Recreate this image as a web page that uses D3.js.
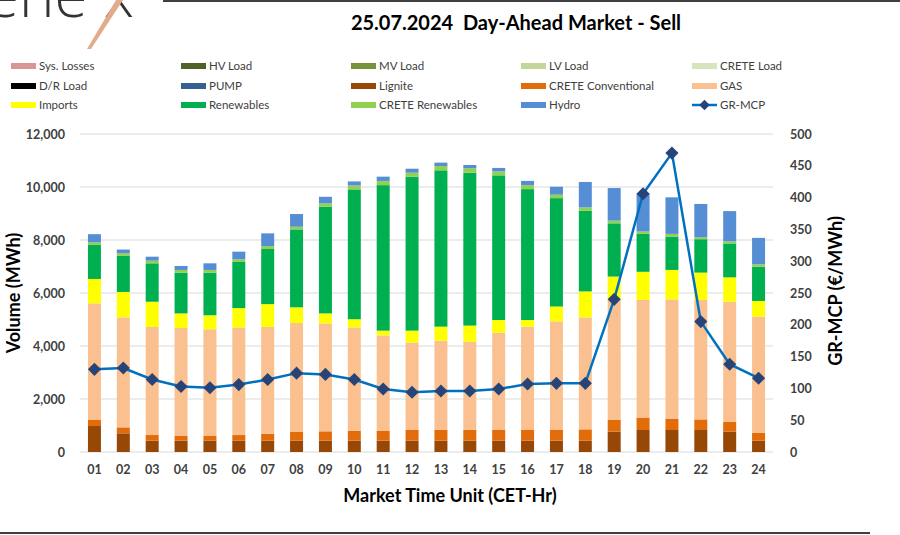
<!DOCTYPE html>
<html><head><meta charset="utf-8">
<script src="https://cdn.jsdelivr.net/npm/d3@7"></script>
<style>
body{margin:0;background:#fff;}
svg{display:block;font-family:Lato,"Open Sans",sans-serif;}
</style></head>
<body><svg id="c" width="900" height="535"></svg>
<script>
const hours = ["01","02","03","04","05","06","07","08","09","10","11","12","13","14","15","16","17","18","19","20","21","22","23","24"];
const lignite = [980,705,430,430,430,430,430,430,430,430,430,430,430,430,430,430,430,430,770,830,830,830,770,430];
const creteConventional = [230,225,210,190,190,210,260,325,350,375,375,400,410,410,400,400,400,425,440,470,430,400,375,300];
const gas = [4400,4150,4080,4060,4010,4060,4030,4115,4070,3895,3595,3300,3360,3320,3670,3900,4100,4225,4530,4440,4500,4510,4525,4380];
const imports = [920,960,950,550,530,730,860,590,380,310,180,450,530,610,480,250,560,980,880,1060,1110,1030,920,590];
const renewables = [1280,1360,1450,1540,1610,1740,2080,2940,4030,4900,5490,5810,5900,5770,5460,4940,4090,3050,2010,1430,1260,1260,1280,1290];
const creteRenewables = [100,100,100,100,100,100,110,100,120,150,160,150,160,170,150,150,130,120,100,90,100,70,80,90];
const hydro = [310,140,150,150,250,290,480,480,250,150,160,150,130,120,130,160,300,960,1230,1430,1380,1260,1140,1000];
const grMcp = [130,132,114,103,101,106,114,124,122,114,99,94,96,96,99,107,108,108,240,406,470,205,138,116];
const leftTicks = [0,2000,4000,6000,8000,10000,12000];
const rightTicks = [0,50,100,150,200,250,300,350,400,450,500];

const legendItems = [
  ["Sys. Losses","#DA9694","bar"],["HV Load","#4F6228","bar"],["MV Load","#77933C","bar"],["LV Load","#C4D79B","bar"],["CRETE Load","#D8E4BC","bar"],
  ["D/R Load","#000000","bar"],["PUMP","#366092","bar"],["Lignite","#974706","bar"],["CRETE Conventional","#E26B0A","bar"],["GAS","#FAC090","bar"],
  ["Imports","#FFFF00","bar"],["Renewables","#00B050","bar"],["CRETE Renewables","#92D050","bar"],["Hydro","#558ED5","bar"],["GR-MCP","#0070C0","line"]
];
const stackSeries = [
  {name:"Lignite",values:lignite,color:"#974706"},
  {name:"CRETE Conventional",values:creteConventional,color:"#E26B0A"},
  {name:"GAS",values:gas,color:"#FAC090"},
  {name:"Imports",values:imports,color:"#FFFF00"},
  {name:"Renewables",values:renewables,color:"#00B050"},
  {name:"CRETE Renewables",values:creteRenewables,color:"#92D050"},
  {name:"Hydro",values:hydro,color:"#558ED5"}
];

const svg = d3.select("#c");
const L=80,R=773,T=134,B=452;
const x = d3.scaleBand().domain(hours).range([L,R]).paddingInner(0.55).paddingOuter(0.275);
const y = d3.scaleLinear().domain([0,12000]).range([B,T]);
const y2 = d3.scaleLinear().domain([0,500]).range([B,T]);

// frame lines
svg.append("line").attr("x1",163).attr("x2",900).attr("y1",1).attr("y2",1).attr("stroke","#000").attr("stroke-width",1.5);
svg.append("line").attr("x1",0).attr("x2",870).attr("y1",533).attr("y2",533).attr("stroke","#000").attr("stroke-width",1.5);

// logo (cut off at the top edge, as in the reference)
svg.append("text").attr("x",-14).attr("y",17).attr("font-family","'Open Sans',sans-serif").attr("font-weight",300)
  .attr("font-size",60).attr("fill","#333").text("ene");
svg.append("text").attr("x",104).attr("y",17).attr("font-family","'Open Sans',sans-serif").attr("font-weight",300)
  .attr("font-size",60).attr("fill","#333").text("x");
svg.append("path").attr("d","M116,0 L123,0 L91,49 L87,49 Z").attr("fill","#E2AC8C");

// title
svg.append("text").attr("x",516).attr("y",30).attr("text-anchor","middle").attr("font-weight",700)
  .attr("font-size",20).attr("fill","#000").style("white-space","pre").text("25.07.2024  Day-Ahead Market - Sell");

// legend
const colX=[11,181,351,521,692], rowY=[66,86,105];
legendItems.forEach((d,i)=>{
  const cx=colX[i%5], cy=rowY[Math.floor(i/5)];
  const g=svg.append("g");
  if(d[2]==="bar"){
    g.append("rect").attr("x",cx).attr("y",cy-3).attr("width",25).attr("height",6).attr("fill",d[1]);
  } else {
    g.append("line").attr("x1",cx).attr("x2",cx+25).attr("y1",cy).attr("y2",cy).attr("stroke",d[1]).attr("stroke-width",2.5);
    g.append("path").attr("d",d3.symbol().type(d3.symbolDiamond2).size(70)).attr("transform",`translate(${cx+12.5},${cy})`).attr("fill","#264478");
  }
  g.append("text").attr("x",cx+28).attr("y",cy+4).attr("font-size",11.5).attr("fill","#404040").text(d[0]);
});

// gridlines
svg.append("g").selectAll("line").data(leftTicks).join("line")
  .attr("x1",L).attr("x2",R).attr("y1",d=>y(d)).attr("y2",d=>y(d)).attr("stroke","#D9D9D9").attr("stroke-width",1);

// bars
const stackData = hours.map((h,i)=>{const o={h}; stackSeries.forEach(s=>o[s.name]=s.values[i]); return o;});
const stack = d3.stack().keys(stackSeries.map(s=>s.name))(stackData);
stack.forEach((layer,k)=>{
  svg.append("g").selectAll("rect").data(layer).join("rect")
    .attr("x",d=>x(d.data.h)).attr("width",x.bandwidth())
    .attr("y",d=>y(d[1])).attr("height",d=>y(d[0])-y(d[1]))
    .attr("fill",stackSeries[k].color);
});

// axes
const axL = svg.append("g").attr("transform",`translate(${L-12},0)`)
  .call(d3.axisLeft(y).tickValues(leftTicks).tickSize(0).tickFormat(d3.format(",")));
const axR = svg.append("g").attr("transform",`translate(${R+14},0)`)
  .call(d3.axisRight(y2).tickValues(rightTicks).tickSize(0));
const axB = svg.append("g").attr("transform",`translate(0,${B+10})`)
  .call(d3.axisBottom(x).tickSize(0));
[axL,axR,axB].forEach(a=>{a.select(".domain").remove();
  a.selectAll("text").attr("font-family","Lato,sans-serif").attr("font-weight",700).attr("font-size",12.5).attr("fill","#404040");});

// line
const line = d3.line().x((d,i)=>x(hours[i])+x.bandwidth()/2).y(d=>y2(d));
svg.append("path").datum(grMcp).attr("d",line).attr("fill","none").attr("stroke","#0070C0").attr("stroke-width",2.5);
svg.append("g").selectAll("path").data(grMcp).join("path")
  .attr("d",d3.symbol().type(d3.symbolDiamond2).size(110))
  .attr("transform",(d,i)=>`translate(${x(hours[i])+x.bandwidth()/2},${y2(d)})`).attr("fill","#264478");

// axis titles
svg.append("text").attr("transform","translate(20,293) rotate(-90)").attr("text-anchor","middle")
  .attr("font-weight",700).attr("font-size",18).attr("fill","#000").text("Volume (MWh)");
svg.append("text").attr("transform","translate(842,291) rotate(-90)").attr("text-anchor","middle")
  .attr("font-weight",700).attr("font-size",18).attr("fill","#000").text("GR-MCP (€/MWh)");
svg.append("text").attr("x",450).attr("y",502).attr("text-anchor","middle")
  .attr("font-weight",700).attr("font-size",18).attr("fill","#000").text("Market Time Unit (CET-Hr)");
</script></body></html>
